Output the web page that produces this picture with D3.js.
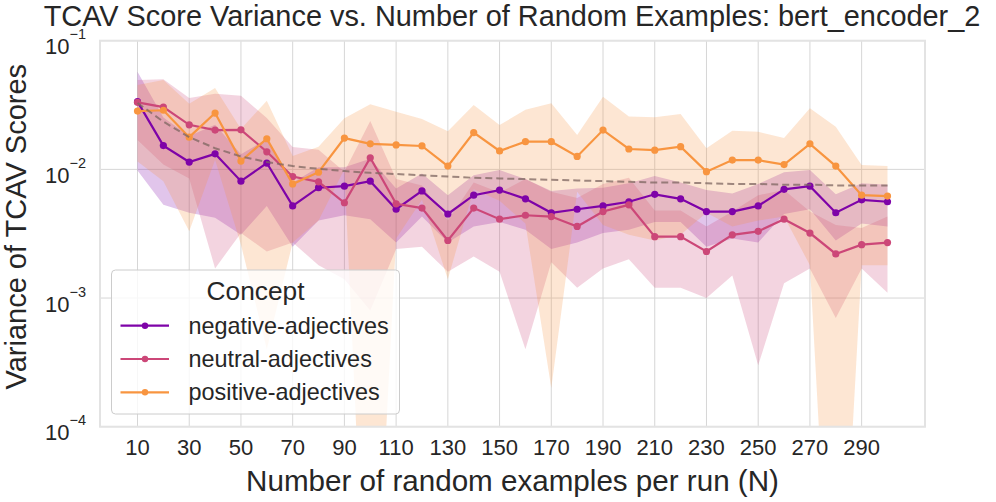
<!DOCTYPE html>
<html>
<head>
<meta charset="utf-8">
<script src="https://cdn.jsdelivr.net/npm/d3@7/dist/d3.min.js"></script>
<style>
body { margin: 0; background: #fff; }
text { font-family: "Liberation Sans", Arial, sans-serif; fill: #262626; }
</style>
</head>
<body>
<svg id="chart" width="996" height="502"></svg>
<script>
// GLOBALS
var w = 996, h = 502;
var margin = {left: 100, right: 71, top: 40.7, bottom: 75.3};

var sampleSizes = [10,20,30,40,50,60,70,80,90,100,110,120,130,140,150,160,170,180,190,200,210,220,230,240,250,260,270,280,290,300];
var xTicks = [10,30,50,70,90,110,130,150,170,190,210,230,250,270,290];
var yTicks = [1e-1, 1e-2, 1e-3, 1e-4];
var yTickExp = ["\u22121", "\u22122", "\u22123", "\u22124"];

var concepts = ["negative-adjectives", "neutral-adjectives", "positive-adjectives"];
var colors = ["#7e03a8", "#cc4778", "#f89540"];

// mean variance per run size
var negativeVar = [0.0336,0.0153,0.0114,0.0132,0.0081,0.0112,0.0052,0.0072,0.0074,0.0081,0.0049,0.0068,0.0045,0.0063,0.0069,0.0059,0.0046,0.0049,0.0052,0.0056,0.0064,0.0059,0.0047,0.0047,0.0052,0.0070,0.0074,0.0046,0.0058,0.0056];
var neutralVar  = [0.0332,0.0305,0.0222,0.0202,0.0203,0.0137,0.0088,0.0080,0.0055,0.0123,0.0054,0.0050,0.0028,0.0050,0.0041,0.0044,0.0043,0.0036,0.0047,0.0053,0.0030,0.0030,0.0023,0.0031,0.0033,0.0041,0.0032,0.0022,0.0026,0.0027];
var positiveVar = [0.0284,0.0288,0.0178,0.0274,0.0116,0.0173,0.0077,0.0095,0.0175,0.0158,0.0155,0.0152,0.0106,0.0193,0.0139,0.0164,0.0164,0.0126,0.0202,0.0144,0.0141,0.0150,0.0096,0.0118,0.0118,0.0109,0.0158,0.0106,0.0063,0.0062];

// spread (sd) around each mean
var negativeSd = [0.0238,0.0100,0.0068,0.0090,0.0050,0.0060,0.0027,0.0032,0.0030,0.0040,0.0022,0.0025,0.0018,0.0027,0.0030,0.0025,0.0022,0.0022,0.0020,0.0022,0.0025,0.0020,0.0022,0.0018,0.0025,0.0025,0.0025,0.0018,0.0020,0.0020];
var neutralSd  = [0.0163,0.0196,0.0137,0.0185,0.0171,0.0114,0.0061,0.0062,0.0041,0.0115,0.0030,0.0025,0.0012,0.0029,0.0025,0.0040,0.0024,0.0024,0.0030,0.0033,0.0018,0.0018,0.0013,0.0016,0.0030,0.0028,0.0015,0.0015,0.0009,0.0016];
var positiveSd = [0.0169,0.0207,0.0145,0.0155,0.0090,0.0169,0.0050,0.0055,0.0075,0.0162,0.0126,0.0094,0.0092,0.0123,0.0082,0.0126,0.0162,0.0059,0.0165,0.0113,0.0113,0.0119,0.0050,0.0082,0.0078,0.0066,0.0140,0.0108,0.0045,0.0044];

// dashed reference curve
var trendVar = [0.0328,0.0235,0.0178,0.0146,0.0126,0.0114,0.0106,0.0101,0.0097,0.0094,0.0092,0.0090,0.0088,0.0086,0.0085,0.0084,0.0083,0.0082,0.0081,0.0080,0.0079,0.0079,0.0078,0.0077,0.0077,0.0076,0.0076,0.0075,0.0075,0.0075];

var means = [negativeVar, neutralVar, positiveVar];
var sds = [negativeSd, neutralSd, positiveSd];
var floorVal = 4e-7; // where non-positive lower bounds end up on the log axis

var svg = d3.select("#chart");
var x = d3.scaleLinear().domain([-4.5, 314.5]).range([margin.left, w - margin.right]);
var y = d3.scaleLog().domain([1e-4, 1e-1]).range([h - margin.bottom, margin.top]);

svg.append("defs").append("clipPath").attr("id", "plotclip")
  .append("rect")
  .attr("x", margin.left).attr("y", margin.top)
  .attr("width", w - margin.left - margin.right)
  .attr("height", h - margin.top - margin.bottom);

// grid
var grid = svg.append("g");
grid.selectAll(".vg").data(xTicks).enter().append("line")
  .attr("x1", function(d) { return x(d); }).attr("x2", function(d) { return x(d); })
  .attr("y1", margin.top).attr("y2", h - margin.bottom)
  .attr("stroke", "#d6d6d6").attr("stroke-width", 1);
grid.selectAll(".hg").data(yTicks).enter().append("line")
  .attr("x1", margin.left).attr("x2", w - margin.right)
  .attr("y1", function(d) { return y(d); }).attr("y2", function(d) { return y(d); })
  .attr("stroke", "#d6d6d6").attr("stroke-width", 1);

var plot = svg.append("g").attr("clip-path", "url(#plotclip)");

// bands first (they sit under every line)
concepts.forEach(function(c, k) {
  var rows = sampleSizes.map(function(n, i) {
    return {n: n, lo: Math.max(means[k][i] - sds[k][i], floorVal), hi: means[k][i] + sds[k][i]};
  });
  var area = d3.area()
    .x(function(d) { return x(d.n); })
    .y0(function(d) { return y(d.lo); })
    .y1(function(d) { return y(d.hi); });
  plot.append("path").datum(rows)
    .attr("d", area)
    .attr("fill", colors[k])
    .attr("fill-opacity", 0.23);
});

var line = d3.line()
  .x(function(d) { return x(d.n); })
  .y(function(d) { return y(d.v); });

concepts.forEach(function(c, k) {
  var rows = sampleSizes.map(function(n, i) { return {n: n, v: means[k][i]}; });
  plot.append("path").datum(rows)
    .attr("d", line)
    .attr("fill", "none")
    .attr("stroke", colors[k])
    .attr("stroke-width", 2.2);
  plot.selectAll(".pt" + k).data(rows).enter().append("circle")
    .attr("cx", function(d) { return x(d.n); })
    .attr("cy", function(d) { return y(d.v); })
    .attr("r", 3.6)
    .attr("fill", colors[k]);
});

var trendRows = sampleSizes.map(function(n, i) { return {n: n, v: trendVar[i]}; });
plot.append("path").datum(trendRows)
  .attr("d", line)
  .attr("fill", "none")
  .attr("stroke", "#7d6560")
  .attr("stroke-opacity", 0.75)
  .attr("stroke-width", 2)
  .attr("stroke-dasharray", "7,4");

// frame
svg.append("rect")
  .attr("x", margin.left).attr("y", margin.top)
  .attr("width", w - margin.left - margin.right)
  .attr("height", h - margin.top - margin.bottom)
  .attr("fill", "none").attr("stroke", "#e3e3e3").attr("stroke-width", 2);

// x ticks
svg.selectAll(".xt").data(xTicks).enter().append("text")
  .attr("x", function(d) { return x(d); })
  .attr("y", 455)
  .attr("text-anchor", "middle")
  .attr("font-size", 22)
  .text(function(d) { return d; });

// y ticks: 10 with superscript exponent
var yt = svg.selectAll(".yt").data(yTicks).enter().append("text")
  .attr("x", 86)
  .attr("y", function(d) { return y(d) + 13.6; })
  .attr("text-anchor", "end")
  .attr("font-size", 22);
yt.append("tspan").text("10");
yt.append("tspan").attr("dy", -15).attr("font-size", 14.5)
  .text(function(d, i) { return yTickExp[i]; });

// titles
svg.append("text")
  .attr("x", 512).attr("y", 26)
  .attr("text-anchor", "middle").attr("font-size", 28.9)
  .text("TCAV Score Variance vs. Number of Random Examples: bert_encoder_2");
svg.append("text")
  .attr("x", (margin.left + w - margin.right) / 2).attr("y", 491)
  .attr("text-anchor", "middle").attr("font-size", 29.6)
  .text("Number of random examples per run (N)");
svg.append("text")
  .attr("transform", "translate(25.5,226.7) rotate(-90)")
  .attr("text-anchor", "middle").attr("font-size", 29)
  .text("Variance of TCAV Scores");

// legend
var lg = svg.append("g").attr("transform", "translate(111.5,270)");
lg.append("rect")
  .attr("width", 288).attr("height", 144).attr("rx", 4)
  .attr("fill", "#fff").attr("fill-opacity", 0.8)
  .attr("stroke", "#cccccc").attr("stroke-width", 1);
lg.append("text").attr("x", 144).attr("y", 29.5)
  .attr("text-anchor", "middle").attr("font-size", 26.3).text("Concept");
concepts.forEach(function(c, k) {
  var ly = 55.7 + k * 33.3;
  lg.append("line").attr("x1", 9).attr("x2", 57.5).attr("y1", ly).attr("y2", ly)
    .attr("stroke", colors[k]).attr("stroke-width", 2.2);
  lg.append("circle").attr("cx", 33.5).attr("cy", ly).attr("r", 3.2).attr("fill", colors[k]);
  lg.append("text").attr("x", 77).attr("y", ly + 7.8)
    .attr("font-size", 23.4).text(c);
});
</script>
</body>
</html>
